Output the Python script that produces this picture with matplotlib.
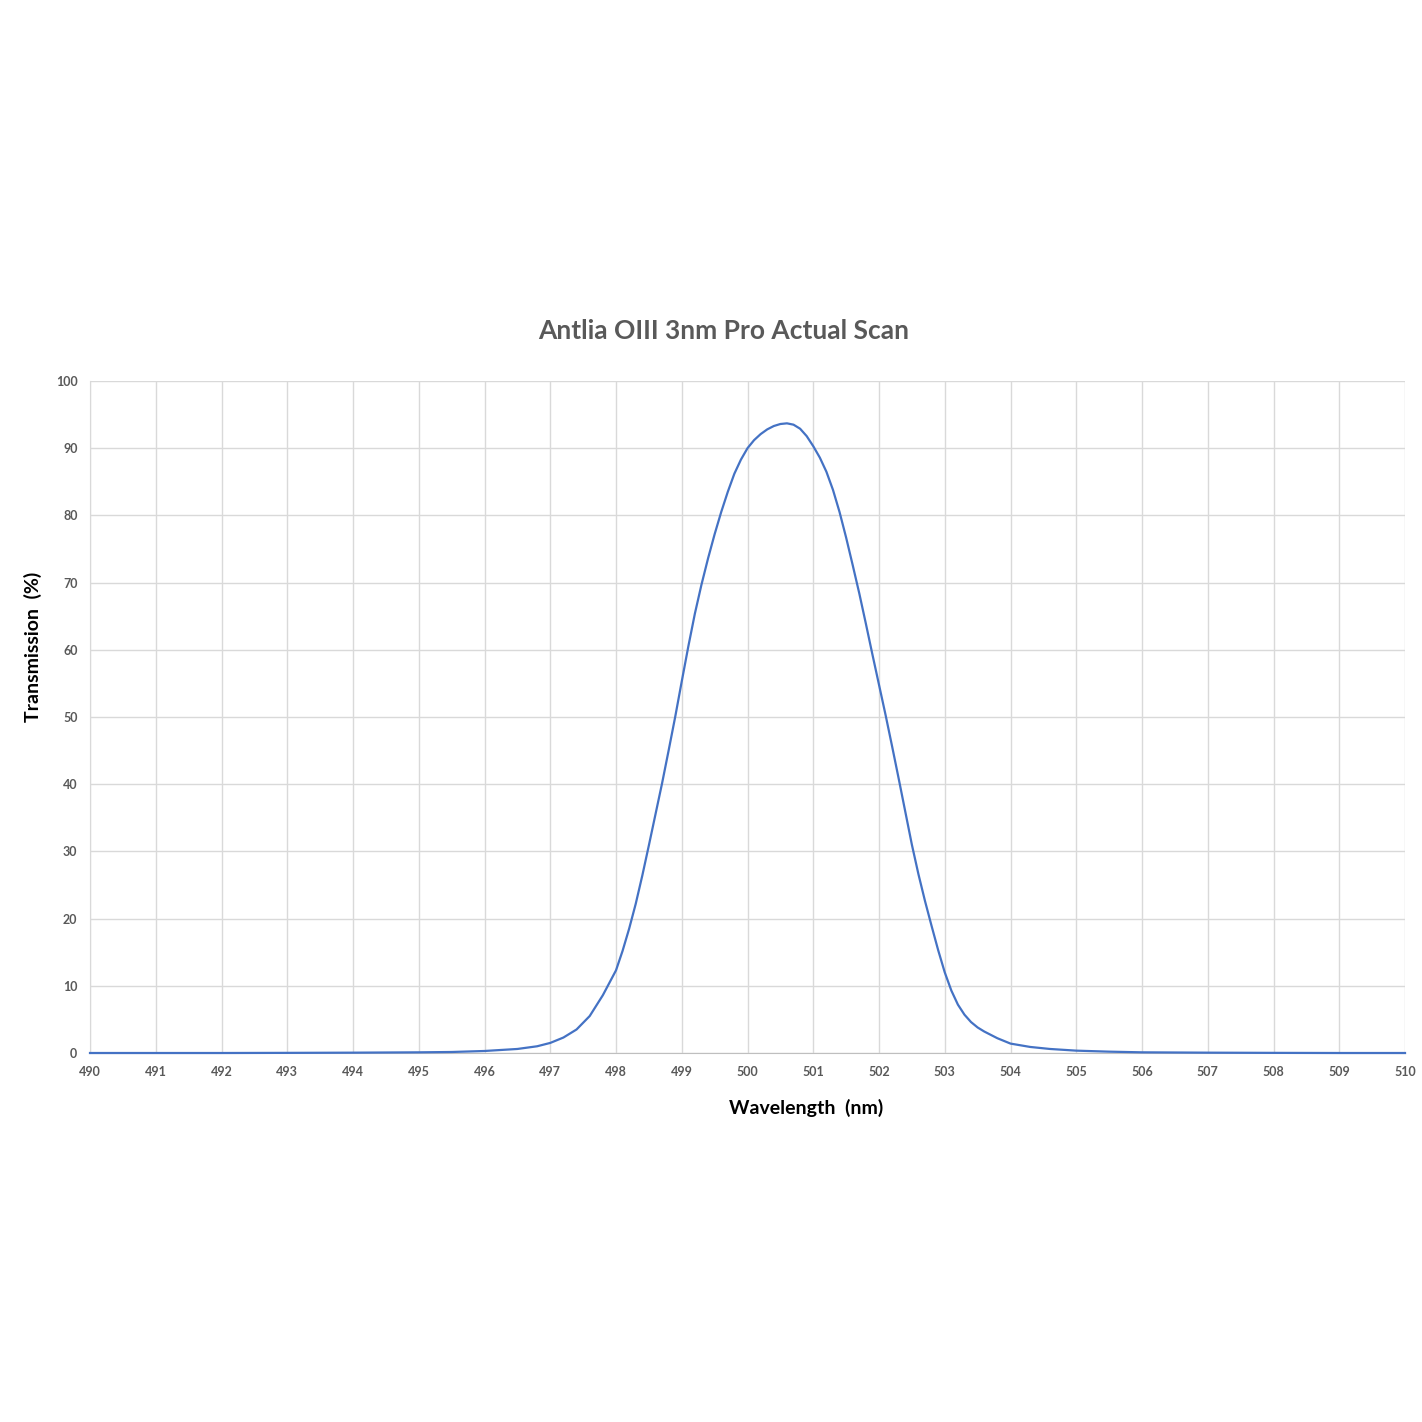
import matplotlib
matplotlib.use("Agg")
import matplotlib.pyplot as plt

# Wavelength (nm) and transmission (%)
wavelength = [490, 491, 492, 493, 494, 495, 495.5, 496, 496.5, 496.8, 497.0, 497.2, 497.4,
              497.6, 497.8, 498.0, 498.1, 498.2, 498.3, 498.4, 498.5, 498.6, 498.7, 498.8,
              498.9, 499.0, 499.1, 499.2, 499.3, 499.4, 499.5, 499.6, 499.7, 499.8, 499.9,
              500.0, 500.1, 500.2, 500.3, 500.4, 500.5, 500.6, 500.7, 500.8, 500.9, 501.0,
              501.1, 501.2, 501.3, 501.4, 501.5, 501.6, 501.7, 501.8, 501.9, 502.0, 502.1,
              502.2, 502.3, 502.4, 502.5, 502.6, 502.7, 502.8, 502.9, 503.0, 503.1, 503.2,
              503.3, 503.4, 503.5, 503.6, 503.8, 504.0, 504.3, 504.6, 505.0, 505.5, 506,
              507, 508, 509, 510]
transmission = [0, 0, 0, 0.02, 0.05, 0.1, 0.15, 0.3, 0.6, 1.0, 1.5, 2.3, 3.5,
                5.5, 8.6, 12.3, 15.2, 18.5, 22.2, 26.4, 30.9, 35.5, 40.1, 45.0,
                50.0, 55.3, 60.5, 65.4, 69.7, 73.6, 77.2, 80.5, 83.5, 86.2, 88.3,
                90.0, 91.2, 92.1, 92.8, 93.3, 93.6, 93.7, 93.5, 92.9, 91.8, 90.3,
                88.6, 86.5, 83.8, 80.5, 76.7, 72.6, 68.4, 63.9, 59.3, 54.8, 50.3,
                45.6, 40.8, 35.9, 31.0, 26.6, 22.6, 18.9, 15.3, 12.0, 9.3, 7.2,
                5.7, 4.6, 3.8, 3.2, 2.2, 1.4, 0.9, 0.6, 0.35, 0.2, 0.1,
                0.05, 0.02, 0.0, 0]

x_ticks = list(range(490, 511))
y_ticks = list(range(0, 101, 10))

title = "Antlia OIII 3nm Pro Actual Scan"
xlabel = "Wavelength  (nm)"
ylabel = "Transmission  (%)"

plt.rcParams['font.family'] = ['Lato', 'DejaVu Sans']

fig = plt.figure(figsize=(14.22, 14.22), dpi=100)
ax = fig.add_axes([90/1422, 1 - 1053/1422, (1405 - 90)/1422, (1053 - 381)/1422])

ax.plot(wavelength, transmission, color="#4472C4", lw=1.6, zorder=3, clip_on=False,
        solid_joinstyle="round")

ax.set_xlim(490, 510)
ax.set_ylim(0, 100)
ax.set_xticks(x_ticks)
ax.set_yticks(y_ticks)
ax.grid(True, color="#d9d9d9", lw=1.0)
ax.set_axisbelow(True)
for s in ["top", "right"]:
    ax.spines[s].set_visible(False)
ax.spines["left"].set_color("#d9d9d9")
ax.spines["bottom"].set_color("#bfbfbf")
ax.tick_params(length=0, labelsize=9, labelcolor="#595959", pad=9)
for lab in ax.get_xticklabels() + ax.get_yticklabels():
    lab.set_fontweight("bold")

fig.text(724/1422, 1 - 331/1422, title, ha="center", va="center", fontsize=19,
         fontweight="bold", color="#595959")
fig.text(806/1422, 1 - 1108/1422, xlabel, ha="center", va="center", fontsize=14,
         fontweight="bold", color="#000000")
fig.text(33/1422, 1 - 647/1422, ylabel, ha="center", va="center", fontsize=14,
         fontweight="bold", color="#000000", rotation=90)

fig.savefig("out.png", dpi=100, facecolor="white")
